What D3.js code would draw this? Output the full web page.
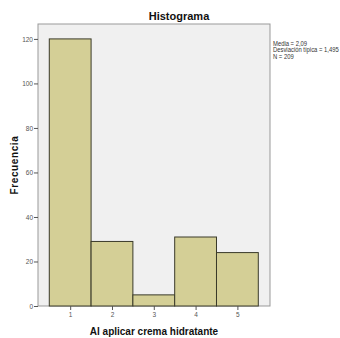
<!DOCTYPE html>
<html>
<head>
<meta charset="utf-8">
<script src="https://cdn.jsdelivr.net/npm/d3@7"></script>
<style>
  body { margin: 0; background: #fff; }
  svg { display: block; font-family: "Liberation Sans", Arial, sans-serif; }
</style>
</head>
<body>
<svg id="chart" width="340" height="338"></svg>
<script>
// Histogram of the answers to "Al aplicar crema hidratante"
const categories = [1, 2, 3, 4, 5];
const frequencies = [120, 29, 5, 31, 24];
const yTicks = [0, 20, 40, 60, 80, 100, 120];
const statsLines = ["Media = 2,09", "Desviación típica = 1,495", "N = 209"];

const svg = d3.select("#chart");
const frame = { left: 38, right: 270, top: 24, bottom: 306 };

const x = d3.scaleLinear().domain([0.23, 5.78]).range([frame.left, frame.right]);
const y = d3.scaleLinear().domain([0, 126.7]).range([frame.bottom, frame.top]);

// plot area
svg.append("rect")
  .attr("x", frame.left).attr("y", frame.top)
  .attr("width", frame.right - frame.left).attr("height", frame.bottom - frame.top)
  .attr("fill", "#f0f0f0").attr("stroke", "#999").attr("stroke-width", 1);

// bars
svg.append("g").selectAll("rect").data(categories).join("rect")
  .attr("x", d => x(d - 0.5))
  .attr("width", d => x(d + 0.5) - x(d - 0.5))
  .attr("y", (d, i) => y(frequencies[i]))
  .attr("height", (d, i) => y(0) - y(frequencies[i]))
  .attr("fill", "#d4cf96")
  .attr("stroke", "#3a3a2a")
  .attr("stroke-width", 1);

// y axis
const yAxis = svg.append("g")
  .attr("transform", `translate(${frame.left},0)`)
  .call(d3.axisLeft(y).tickValues(yTicks).tickSize(4).tickPadding(1).tickFormat(d3.format("d")));
yAxis.select(".domain").remove();
yAxis.selectAll("line").attr("stroke", "#555");
yAxis.selectAll("text").attr("font-size", 6.5).attr("fill", "#555");

// x axis
const xAxis = svg.append("g")
  .attr("transform", `translate(0,${frame.bottom})`)
  .call(d3.axisBottom(x).tickValues(categories).tickSize(4).tickPadding(2).tickFormat(d3.format("d")));
xAxis.select(".domain").remove();
xAxis.selectAll("line").attr("stroke", "#555");
xAxis.selectAll("text").attr("font-size", 6.5).attr("fill", "#555");

// title
svg.append("text")
  .attr("x", 179).attr("y", 20)
  .attr("text-anchor", "middle")
  .attr("font-size", 11).attr("font-weight", "bold").attr("fill", "#111")
  .text("Histograma");

// axis titles
svg.append("text")
  .attr("x", 154).attr("y", 335)
  .attr("text-anchor", "middle")
  .attr("font-size", 10).attr("font-weight", "bold").attr("fill", "#111")
  .text("Al aplicar crema hidratante");

svg.append("text")
  .attr("transform", "translate(18,165) rotate(-90)")
  .attr("text-anchor", "middle")
  .attr("font-size", 10).attr("font-weight", "bold").attr("fill", "#111")
  .attr("letter-spacing", 0.6)
  .text("Frecuencia");

// summary statistics, horizontally condensed to stay inside the right edge
svg.append("g")
  .attr("transform", "translate(273,0) scale(0.84,1)")
  .selectAll("text").data(statsLines).join("text")
  .attr("x", 0)
  .attr("y", (d, i) => 46 + i * 6.3)
  .attr("font-size", 7).attr("fill", "#333")
  .text(d => d);
</script>
</body>
</html>
